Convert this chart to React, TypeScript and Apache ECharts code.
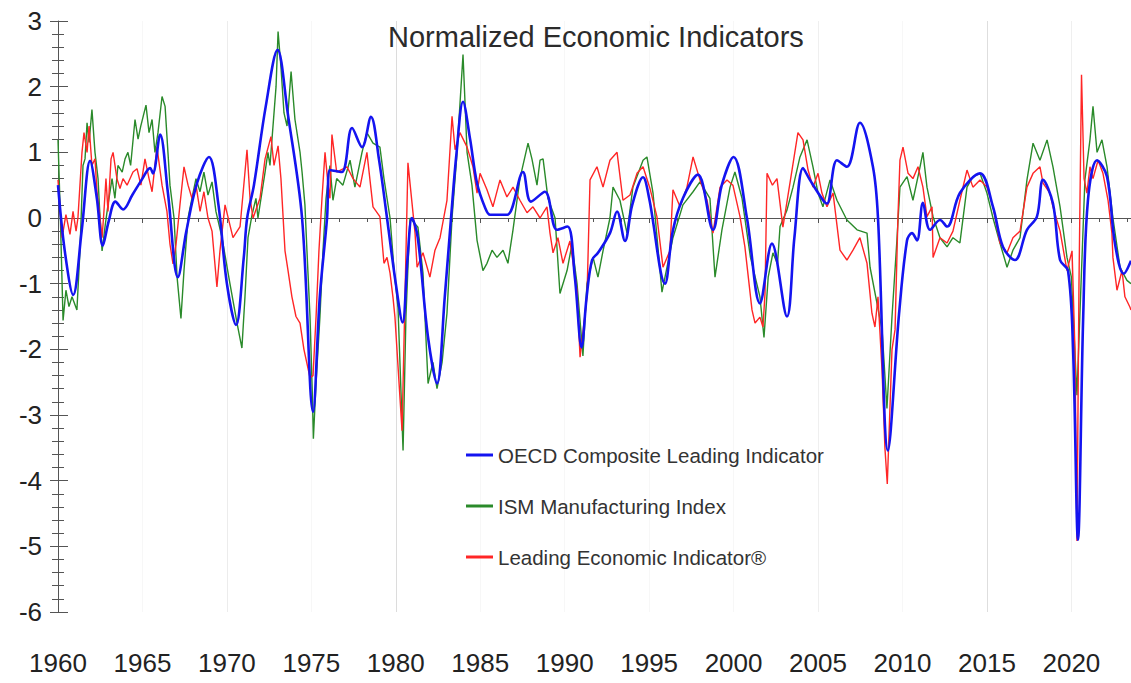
import React, { useEffect, useRef } from "react";
import * as echarts from "echarts";

const TITLE = "Normalized Economic Indicators";
const NAME_OECD = "OECD Composite Leading Indicator";
const NAME_ISM = "ISM Manufacturing Index";
const NAME_LEI = "Leading Economic Indicator®";

const X_MIN = 1960;
const X_MAX = 2023.53;
const X_STEP = 5;
const Y_MIN = -6;
const Y_MAX = 3;
const Y_STEP = 1;

const oecd: [number, number][] = [
  [1960.0, 0.5], [1960.4, -0.5], [1960.9, -1.17], [1961.4, -0.2], [1961.9, 0.87], [1962.3, 0.3],
  [1962.65, -0.42], [1963.0, -0.05], [1963.4, 0.25], [1963.85, 0.13], [1964.4, 0.35], [1965.0, 0.6],
  [1965.45, 0.76], [1965.62, 0.68], [1966.05, 1.27], [1966.5, 0.4], [1967.1, -0.9], [1967.6, -0.2],
  [1968.23, 0.53], [1968.94, 0.93], [1969.5, 0.2], [1970.0, -1.0], [1970.54, -1.63], [1971.0, -0.6],
  [1971.2, 0], [1971.6, 0.5], [1972.3, 1.7], [1973.0, 2.56], [1973.6, 1.6], [1974.45, 0],
  [1975.1, -2.95], [1975.5, -1.2], [1975.93, 0], [1976.1, 0.73], [1976.8, 0.7], [1977.41, 1.37],
  [1978.0, 1.08], [1978.53, 1.54], [1979.0, 0.9], [1979.48, 0], [1980.0, -1.0], [1980.4, -1.59],
  [1980.7, -0.6], [1980.96, 0.0], [1981.3, -0.3], [1981.9, -1.8], [1982.44, -2.52], [1982.9, -1.2],
  [1983.27, 0], [1983.6, 1.0], [1983.98, 1.77], [1984.4, 1.2], [1984.81, 0.53], [1985.3, 0.15],
  [1985.58, 0.05], [1986.0, 0.05], [1986.6, 0.05], [1987.53, 0.7], [1988.0, 0.25], [1988.83, 0.4],
  [1989.54, -0.18], [1990.17, -0.13], [1990.6, -0.9], [1991.0, -1.97], [1991.3, -1.2], [1991.62, -0.64],
  [1991.97, -0.53], [1992.68, -0.23], [1993.1, 0.1], [1993.57, -0.35], [1994.0, 0.2], [1994.64, 0.62],
  [1995.0, 0.3], [1995.94, -1.0], [1996.4, -0.2], [1997.0, 0.3], [1997.89, 0.66], [1998.78, -0.18],
  [1999.3, 0.5], [2000.0, 0.93], [2000.79, 0.0], [2001.56, -1.3], [2002.27, -0.39], [2003.16, -1.5],
  [2003.6, -0.3], [2004.11, 0.76], [2004.52, 0.58], [2005.3, 0.27], [2005.53, 0.22], [2006.12, 0.88],
  [2006.71, 0.78], [2007.48, 1.45], [2008.25, 0.78], [2008.55, 0.0], [2009.14, -3.54], [2009.8, -1.45],
  [2010.27, -0.34], [2010.56, -0.23], [2010.86, -0.34], [2011.21, 0.23], [2011.63, -0.18], [2012.22, -0.03],
  [2012.64, -0.13], [2013.4, 0.38], [2014.59, 0.68], [2015.36, 0.17], [2015.95, -0.44], [2016.66, -0.64],
  [2017.37, -0.18], [2017.96, 0.02], [2018.32, 0.58], [2018.91, 0.22], [2019.33, -0.64], [2019.8, -0.8],
  [2020.1, -2.0], [2020.39, -4.9], [2020.7, -1.5], [2020.98, 0.27], [2021.52, 0.88], [2022.11, 0.63],
  [2022.58, -0.39], [2023.1, -0.85], [2023.53, -0.65],
];

const ism: [number, number][] = [
  [1960.0, 1.19], [1960.12, 0.2], [1960.3, -1.56], [1960.47, -1.1], [1960.65, -1.35], [1960.83, -1.2],
  [1961.12, -1.4], [1961.3, -0.5], [1961.48, 0.8], [1961.6, 0.9], [1961.72, 1.45], [1961.84, 1.15],
  [1962.01, 1.65], [1962.19, 1.0], [1962.37, 0.6], [1962.49, 0.0], [1962.61, -0.5], [1962.8, -0.1],
  [1962.96, 0.2], [1963.2, 0.6], [1963.37, 0.3], [1963.55, 0.8], [1963.8, 0.7], [1963.97, 0.9],
  [1964.14, 1.0], [1964.3, 0.8], [1964.56, 1.5], [1964.74, 1.2], [1964.9, 1.4], [1965.21, 1.72],
  [1965.39, 1.3], [1965.57, 1.5], [1965.74, 1.0], [1965.92, 1.3], [1966.16, 1.85], [1966.34, 1.7],
  [1966.51, 1.0], [1966.63, 0.5], [1966.87, 0.0], [1967.05, -0.9], [1967.28, -1.53], [1967.46, -0.8],
  [1967.7, 0.0], [1967.93, 0.3], [1968.17, 0.6], [1968.41, 0.4], [1968.64, 0.7], [1968.88, 0.35],
  [1969.12, 0.55], [1969.35, 0.1], [1969.71, -0.3], [1970.18, -1.0], [1970.6, -1.6], [1970.89, -1.98],
  [1971.07, -1.2], [1971.25, -0.3], [1971.49, 0.05], [1971.72, 0.3], [1971.84, 0.0], [1972.26, 0.7],
  [1972.43, 1.0], [1972.55, 0.8], [1972.67, 1.2], [1972.91, 2.0], [1973.03, 2.84], [1973.2, 2.3],
  [1973.38, 1.6], [1973.56, 1.4], [1973.8, 2.23], [1974.03, 1.5], [1974.33, 1.0], [1974.45, 0.7],
  [1974.62, 0.2], [1974.74, -0.5], [1974.92, -1.5], [1975.05, -2.6], [1975.12, -3.36], [1975.28, -2.5],
  [1975.51, -1.5], [1975.69, -0.5], [1975.87, 0.3], [1976.1, 0.8], [1976.28, 0.27], [1976.5, 0.6],
  [1976.87, 0.5], [1977.29, 0.88], [1977.58, 0.47], [1978.0, 1.0], [1978.29, 1.3], [1978.65, 1.14],
  [1979.06, 1.08], [1979.3, 0.6], [1979.66, 0.0], [1979.9, -0.8], [1980.13, -1.36], [1980.43, -3.54],
  [1980.6, -1.5], [1980.84, 0.0], [1981.31, -0.14], [1981.61, -0.84], [1981.91, -2.52], [1982.2, -2.2],
  [1982.44, -2.6], [1982.74, -2.2], [1983.03, -1.45], [1983.33, 0.0], [1983.6, 0.9], [1983.98, 2.49],
  [1984.22, 1.0], [1984.51, 0.5], [1984.81, -0.34], [1985.16, -0.8], [1985.4, -0.69], [1985.7, -0.49],
  [1985.99, -0.6], [1986.35, -0.49], [1986.64, -0.69], [1986.94, -0.18], [1987.35, 0.6], [1987.83, 1.14],
  [1988.06, 0.9], [1988.36, 0.5], [1988.54, 0.88], [1988.72, 0.9], [1989.01, 0.3], [1989.43, 0.0],
  [1989.72, -1.15], [1990.14, -0.8], [1990.43, -0.4], [1990.73, -1.0], [1991.08, -2.1], [1991.32, -1.0],
  [1991.68, -0.6], [1991.97, -0.9], [1992.27, -0.5], [1992.68, 0.0], [1992.86, 0.47], [1993.27, 0.27],
  [1993.69, -0.23], [1994.04, 0.47], [1994.64, 0.88], [1994.87, 0.93], [1995.23, 0.38], [1995.76, -1.13],
  [1996.41, -0.3], [1997.0, 0.2], [1997.6, 0.4], [1998.01, 0.55], [1998.6, 0.3], [1998.9, -0.9],
  [1999.31, -0.18], [1999.79, 0.47], [2000.08, 0.7], [2000.5, 0.3], [2001.0, -0.6], [2001.56, -1.2],
  [2001.8, -1.82], [2002.05, -0.9], [2002.33, -0.53], [2002.6, -0.7], [2002.75, -0.13], [2003.16, 0.12],
  [2003.52, 0.47], [2003.93, 0.93], [2004.35, 1.19], [2004.7, 0.78], [2005.0, 0.38], [2005.29, 0.17],
  [2005.71, 0.58], [2006.12, 0.27], [2006.71, -0.03], [2007.31, -0.18], [2007.9, -0.23], [2008.08, -0.75],
  [2008.79, -1.7], [2009.08, -2.9], [2009.38, -1.5], [2009.67, -0.34], [2009.85, 0.47], [2010.27, 0.63],
  [2010.62, 0.27], [2011.04, 0.78], [2011.21, 1.0], [2011.45, 0.47], [2011.81, 0.02], [2012.22, -0.3],
  [2012.64, -0.44], [2012.99, -0.3], [2013.4, -0.38], [2013.82, 0.47], [2014.17, 0.63], [2014.59, 0.68],
  [2015.0, 0.38], [2015.36, 0.0], [2015.77, -0.38], [2016.19, -0.75], [2016.54, -0.49], [2016.96, -0.3],
  [2017.37, 0.58], [2017.73, 1.14], [2018.14, 0.88], [2018.56, 1.19], [2018.91, 0.78], [2019.33, 0.17],
  [2019.74, -0.6], [2020.0, -0.9], [2020.33, -2.7], [2020.5, -1.5], [2020.8, 0.58], [2021.1, 1.19],
  [2021.28, 1.7], [2021.52, 1.0], [2021.81, 1.19], [2022.11, 0.78], [2022.46, 0.0], [2022.88, -0.75],
  [2023.29, -0.95], [2023.53, -1.0],
];

const lei: [number, number][] = [
  [1960.0, 0.58], [1960.24, -0.3], [1960.47, 0.05], [1960.71, -0.25], [1960.89, 0.1], [1961.07, -0.2],
  [1961.18, 0.0], [1961.42, 1.0], [1961.54, 1.3], [1961.72, 1.0], [1961.84, 1.4], [1962.01, 0.8],
  [1962.19, 0.9], [1962.31, 0.4], [1962.49, 0.0], [1962.61, -0.3], [1962.72, 0.1], [1962.84, 0.6],
  [1962.96, 0.1], [1963.14, 0.9], [1963.26, 1.0], [1963.49, 0.6], [1963.67, 0.45], [1963.85, 0.6],
  [1964.09, 0.5], [1964.44, 0.7], [1964.68, 0.75], [1964.91, 0.5], [1965.15, 0.9], [1965.39, 0.6],
  [1965.57, 0.4], [1965.86, 1.08], [1966.16, 0.5], [1966.45, 0.1], [1966.63, -0.4], [1966.81, -0.7],
  [1966.99, -0.4], [1967.22, 0.2], [1967.46, 0.78], [1967.7, 0.5], [1967.93, 0.3], [1968.17, 0.5],
  [1968.41, 0.1], [1968.64, 0.4], [1968.88, 0.0], [1969.12, -0.2], [1969.41, -1.05], [1969.59, -0.5],
  [1969.89, 0.2], [1970.36, -0.3], [1970.78, -0.13], [1971.19, 1.04], [1971.37, 0.3], [1971.55, 0.0],
  [1971.96, 0.3], [1972.26, 0.9], [1972.61, 1.24], [1972.79, 0.8], [1973.03, 1.1], [1973.2, 0.6],
  [1973.44, -0.5], [1973.62, -0.8], [1973.85, -1.2], [1974.09, -1.5], [1974.33, -1.6], [1974.56, -2.0],
  [1974.92, -2.43], [1975.1, -2.4], [1975.28, -1.5], [1975.45, -0.5], [1975.63, 0.3], [1975.81, 1.0],
  [1975.99, 0.5], [1976.1, 0.3], [1976.22, 1.27], [1976.5, 0.7], [1977.11, 0.78], [1977.47, 0.6],
  [1977.88, 0.47], [1978.29, 1.0], [1978.65, 0.17], [1979.06, 0.02], [1979.3, -0.69], [1979.48, -0.6],
  [1979.66, -0.84], [1979.83, -1.2], [1979.95, -1.51], [1980.37, -3.24], [1980.72, 0.84], [1981.14, -0.23],
  [1981.26, -0.75], [1981.61, -0.53], [1982.02, -0.9], [1982.32, -0.49], [1982.62, -0.3], [1983.03, 0.27],
  [1983.33, 1.55], [1983.51, 1.04], [1983.8, 1.3], [1984.22, 1.08], [1984.57, 0.78], [1984.81, 0.38],
  [1984.99, 0.68], [1985.4, 0.43], [1985.75, 0.17], [1986.17, 0.58], [1986.58, 0.32], [1986.94, 0.47],
  [1987.35, 0.27], [1987.77, 0.08], [1988.12, 0.17], [1988.54, 0.0], [1988.95, 0.17], [1989.13, -0.23],
  [1989.31, -0.53], [1989.6, -0.3], [1989.9, -0.69], [1990.31, -0.35], [1990.73, -1.1], [1990.91, -2.12],
  [1991.32, -1.2], [1991.5, 0.58], [1991.91, 0.78], [1992.27, 0.47], [1992.68, 0.88], [1993.1, 1.0],
  [1993.45, 0.27], [1993.87, 0.35], [1994.28, 0.68], [1994.64, 0.78], [1995.05, 0.45], [1995.46, 0.02],
  [1995.82, -0.75], [1996.23, -0.5], [1996.41, 0.43], [1996.83, 0.17], [1997.24, 0.47], [1997.6, 0.93],
  [1998.01, 0.58], [1998.43, 0.27], [1998.78, -0.23], [1999.2, 0.47], [1999.61, 0.58], [1999.96, 0.5],
  [2000.38, 0.02], [2000.67, -0.44], [2001.09, -1.4], [2001.27, -1.6], [2001.56, -1.51], [2001.74, -1.66],
  [2001.86, -1.15], [2001.98, 0.68], [2002.3, 0.5], [2002.57, 0.6], [2002.92, -0.14], [2003.46, 0.73],
  [2003.81, 1.3], [2004.11, 1.19], [2004.41, 0.73], [2004.7, 0.47], [2005.0, 0.68], [2005.23, 0.38],
  [2005.53, 0.17], [2005.89, 0.38], [2006.3, -0.49], [2006.71, -0.64], [2007.07, -0.49], [2007.48, -0.3],
  [2007.9, -0.69], [2008.19, -1.45], [2008.37, -1.66], [2008.55, -1.2], [2008.79, -2.32], [2008.96, -3.5],
  [2009.1, -4.05], [2009.38, -2.0], [2009.56, -1.7], [2009.73, 0.0], [2009.85, 0.88], [2010.03, 1.08],
  [2010.33, 0.68], [2010.62, 0.6], [2010.92, 0.78], [2011.21, 0.47], [2011.45, 0.02], [2011.75, 0.17],
  [2011.81, -0.6], [2012.22, -0.3], [2012.64, -0.38], [2012.99, -0.2], [2013.4, 0.27], [2013.82, 0.73],
  [2014.17, 0.47], [2014.59, 0.58], [2015.0, 0.47], [2015.36, 0.17], [2015.77, -0.38], [2016.19, -0.53],
  [2016.54, -0.3], [2016.96, -0.2], [2017.37, 0.47], [2017.73, 0.68], [2018.14, 0.78], [2018.32, 0.53],
  [2018.73, 0.38], [2018.91, 0.17], [2019.33, -0.2], [2019.74, -0.8], [2020.04, -0.5], [2020.21, -2.0],
  [2020.33, -4.92], [2020.45, -1.0], [2020.6, 2.18], [2020.75, 0.6], [2020.92, 0.38], [2021.1, 0.78],
  [2021.28, 0.6], [2021.58, 0.88], [2021.87, 0.68], [2022.17, 0.27], [2022.4, -0.23], [2022.46, -0.6],
  [2022.7, -1.1], [2023.0, -0.8], [2023.17, -1.2], [2023.47, -1.36], [2023.53, -1.4],
];

const GRID_LINE_COLORS = [
  "#ffffff", "#f7f7f7", "#ececec", "#f7f7f7", "#dcdcdc", "#f7f7f7", "#f7f7f7",
  "#f7f7f7", "#f7f7f7", "#efefef", "#f7f7f7", "#dedede", "#efefef", "#ffffff",
];

export default function App() {
  const ref = useRef<HTMLDivElement>(null);
  useEffect(() => {
    if (!ref.current) return;
    const chart = echarts.init(ref.current, null, { renderer: "svg" });
    const font = "'Liberation Sans', Arial, sans-serif";
    const axisColor = "#555555";
    const xLabel = (v: number) => (Math.abs(v - Math.round(v / X_STEP) * X_STEP) < 1e-6 ? String(Math.round(v)) : "");
    chart.setOption({
      animation: false,
      backgroundColor: "#ffffff",
      title: {
        text: TITLE,
        left: 383,
        top: 17,
        textStyle: { fontFamily: font, fontSize: 29, fontWeight: "normal", color: "#2b2b2b" },
      },
      legend: {
        orient: "vertical",
        left: 461,
        top: 438,
        itemWidth: 27,
        itemHeight: 3,
        itemGap: 27,
        icon: "rect",
        data: [NAME_OECD, NAME_ISM, NAME_LEI],
        textStyle: { fontFamily: font, fontSize: 20.5, color: "#333333", lineHeight: 24 },
      },
      grid: { left: 58, right: 0, top: 21, bottom: 71, containLabel: false },
      xAxis: [
        {
          type: "value",
          min: X_MIN,
          max: X_MAX,
          interval: X_STEP,
          position: "bottom",
          axisLine: { show: false, onZero: false },
          axisTick: { show: false },
          axisLabel: {
            margin: 38,
            fontFamily: font,
            fontSize: 26,
            color: "#222222",
            formatter: xLabel,
            showMaxLabel: false,
          },
          splitLine: { show: true, lineStyle: { color: GRID_LINE_COLORS, width: 1 } },
        },
        {
          type: "value",
          min: X_MIN,
          max: X_MAX,
          interval: X_STEP,
          position: "bottom",
          axisLine: { show: true, onZero: true, lineStyle: { color: axisColor, width: 1 } },
          axisTick: { show: true, length: 5, lineStyle: { color: axisColor } },
          minorTick: { show: true, splitNumber: 3, length: 4, lineStyle: { color: axisColor } },
          axisLabel: { show: false },
          splitLine: { show: false },
        },
      ],
      yAxis: [
        {
          type: "value",
          min: Y_MIN,
          max: Y_MAX,
          interval: Y_STEP,
          position: "left",
          axisLine: { show: true, lineStyle: { color: axisColor, width: 1 } },
          axisTick: { show: true, length: 8, lineStyle: { color: axisColor } },
          minorTick: { show: true, splitNumber: 5, length: 6, lineStyle: { color: axisColor } },
          axisLabel: { margin: 16, fontFamily: font, fontSize: 26, color: "#222222", formatter: (v: number) => String(v) },
          splitLine: { show: false },
        },
        {
          type: "value",
          min: Y_MIN,
          max: Y_MAX,
          interval: Y_STEP,
          position: "left",
          axisLine: { show: false },
          axisTick: { show: true, inside: true, length: 10, lineStyle: { color: axisColor } },
          minorTick: { show: true, splitNumber: 5, length: 6, lineStyle: { color: axisColor } },
          axisLabel: { show: false },
          splitLine: { show: false },
        },
      ],
      series: [
        {
          name: NAME_ISM,
          type: "line",
          data: ism,
          showSymbol: false,
          symbol: "none",
          lineStyle: { color: "#2a8a2a", width: 1.4 },
          itemStyle: { color: "#2a8a2a" },
          z: 2,
        },
        {
          name: NAME_LEI,
          type: "line",
          data: lei,
          showSymbol: false,
          symbol: "none",
          lineStyle: { color: "#ff2626", width: 1.4 },
          itemStyle: { color: "#ff2626" },
          z: 3,
        },
        {
          name: NAME_OECD,
          type: "line",
          data: oecd,
          smooth: 0.35,
          showSymbol: false,
          symbol: "none",
          lineStyle: { color: "#1414f0", width: 2.6 },
          itemStyle: { color: "#1414f0" },
          z: 4,
        },
      ],
    });
    return () => chart.dispose();
  }, []);
  return (
    <div
      ref={ref}
      style={{ position: "absolute", left: 0, top: 0, width: 1131, height: 683, background: "#ffffff" }}
    />
  );
}
